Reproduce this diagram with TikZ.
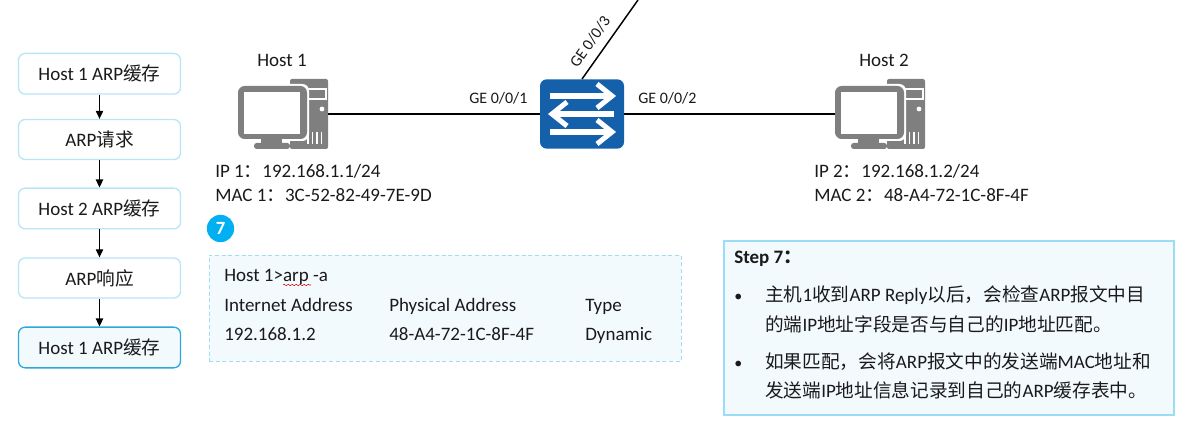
\documentclass[tikz,border=0pt]{standalone}
\usepackage{fontspec}
\setmainfont{Carlito}
\newfontfamily\cjk{Noto Sans CJK SC}
\newcommand{\C}[1]{{\cjk\fontsize{14pt}{16pt}\selectfont #1}}
\usetikzlibrary{arrows.meta,decorations.pathmorphing}
\definecolor{txt}{HTML}{1A1A1A}
\definecolor{pale}{HTML}{F3FAFE}
\definecolor{lightb}{HTML}{B7E6F7}
\definecolor{midb}{HTML}{2BA9DC}
\definecolor{dashb}{HTML}{9FDDF2}
\definecolor{stepb}{HTML}{9BDDF6}
\definecolor{cyanb}{HTML}{00B0F0}
\definecolor{swblue}{HTML}{1560AA}
\definecolor{pcgrey}{HTML}{7F7F7F}
\tikzset{
  x=0.75pt,y=-0.75pt,
  flow/.style={draw=lightb,line width=1pt,rounded corners=5pt,minimum width=121.5pt,inner sep=0pt,text=txt,font=\fontsize{14.25pt}{16pt}\selectfont,fill=white},
  flowon/.style={flow,draw=midb,fill=pale},
  lnk/.style={draw=black,line width=1.1pt},
  flowarrow/.style={draw=black,line width=0.8pt,-{Triangle[length=6pt,width=5.5pt]}},
  lab/.style={anchor=base west,inner sep=0pt,text=txt,font=\fontsize{14.25pt}{16pt}\selectfont},
  labc/.style={lab,anchor=base},
  small/.style={lab,font=\fontsize{12pt}{14pt}\selectfont},
  swarrow/.style={draw=white,line width=3.8pt},
  hostbox/.style={minimum width=67.5pt,minimum height=52.5pt,inner sep=0pt,draw=none},
  pics/hosticon/.style={code={
    % tower
    \fill[pcgrey,rounded corners=1.5pt] (52,0) rectangle (90,70);
    \draw[white,line width=0.8pt] (69,10) rectangle (88,20);
    \fill[white] (84,30) circle (2.4);
    \foreach \vx in {70,74.5,79,83.5} \draw[white,line width=0.9pt] (\vx,53) -- (\vx,65);
    % monitor
    \fill[white,rounded corners=5pt] (-2,5) rectangle (71,62);
    \fill[pcgrey,rounded corners=5pt] (0,7) rectangle (69,60);
    \fill[white] (6,13) rectangle (62,55);
    \fill[pcgrey] (23,60) rectangle (44,64);
    \fill[pcgrey,rounded corners=2pt] (16,64) rectangle (52,70);
  }}
}
\begin{document}
\begin{tikzpicture}
\useasboundingbox (0,0) rectangle (1191,427);
% flow column
\node[flow,minimum height=30.5pt] (f1) at (99.5,73.75) {Host 1 ARP\C{缓存}};
\node[flow,minimum height=30pt] (f2) at (99.5,139.5) {ARP\C{请求}};
\node[flow,minimum height=30.5pt] (f3) at (99.5,208.5) {Host 2 ARP\C{缓存}};
\node[flow,minimum height=30pt] (f4) at (99.5,278) {ARP\C{响应}};
\node[flowon,minimum height=30.5pt] (f5) at (99.5,347.5) {Host 1 ARP\C{缓存}};
\draw[flowarrow] (f1) -- (f2);
\draw[flowarrow] (f2) -- (f3);
\draw[flowarrow] (f3) -- (f4);
\draw[flowarrow] (f4) -- (f5);
% hosts
\node[hostbox,minimum width=67.5pt] (h1) at (283,114) {};
\pic at (238,79) {hosticon};
\node[hostbox] (h2) at (880,114) {};
\pic at (835,79) {hosticon};
\node[labc] (h1t) at (282,67) {Host 1};
\node[labc] (h2t) at (884,67) {Host 2};
% switch
\node[fill=swblue,rounded corners=5pt,minimum width=63pt,minimum height=52pt,inner sep=0pt] (sw) at (582,114) {};
\draw[swarrow] (550,96) -- (612,96);
\draw[swarrow,line join=miter] (597,84) -- (612,96) -- (597,108);
\draw[swarrow] (614,114) -- (552,114);
\draw[swarrow,line join=miter] (567,102) -- (552,114) -- (567,126);
\draw[swarrow] (550,132) -- (612,132);
\draw[swarrow,line join=miter] (597,120) -- (612,132) -- (597,144);
\coordinate (up) at (638,0);
\draw[lnk] (h1.east) -- (sw.west);
\draw[lnk] (sw.east) -- (h2.west);
\draw[lnk] (sw.north) -- (up);
\node[small] (p1) at (469,104) {GE 0/0/1};
\node[small] (p2) at (638,104) {GE 0/0/2};
\node[small,anchor=center,rotate=55] (p3) at (590,42) {GE 0/0/3};
% addresses
\node[lab] (a1) at (215,178) {IP 1\C{：}192.168.1.1/24};
\node[lab] (a2) at (215,202) {MAC 1\C{：}3C-52-82-49-7E-9D};
\node[lab] (a3) at (814,178) {IP 2\C{：}192.168.1.2/24};
\node[lab] (a4) at (814,202) {MAC 2\C{：}48-A4-72-1C-8F-4F};
% badge
\node[circle,fill=cyanb,minimum size=20.5pt,inner sep=0pt,text=white,font=\fontsize{14pt}{16pt}\selectfont\bfseries] (badge) at (220.5,228.5) {7};
% arp table
\node[draw=dashb,line width=0.7pt,dash pattern=on 3pt off 2pt,fill=pale,minimum width=354pt,minimum height=79.5pt,inner sep=0pt] (tbl) at (445,308) {};
\node[lab] (t0) at (224,282) {Host 1>arp -a};
\draw[red!80!black,line width=0.4pt,decorate,decoration={snake,amplitude=0.5pt,segment length=3pt}] (283,285) -- (311,285);
\node[lab] (t1) at (224,311) {Internet Address};
\node[lab] (t2) at (389,311) {Physical Address};
\node[lab] (t3) at (585,311) {Type};
\node[lab] (t4) at (224,340) {192.168.1.2};
\node[lab] (t5) at (389,340) {48-A4-72-1C-8F-4F};
\node[lab] (t6) at (585,340) {Dynamic};
% step box
\node[draw=stepb,line width=0.8pt,fill=pale,minimum width=337.5pt,minimum height=130.5pt,inner sep=0pt] (stepbox) at (949,328) {};
\node[lab,font=\fontsize{14.25pt}{16pt}\selectfont\bfseries] (s0) at (734,264) {Step 7\C{：}};
\node[lab,font=\fontsize{12pt}{14pt}\selectfont] (b1) at (734,302) {•};
\node[lab] (s1) at (765,302) {\C{主机}1\C{收到}ARP Reply\C{以后，会检查}ARP\C{报文中目}};
\node[lab] (s2) at (765,331) {\C{的端}IP\C{地址字段是否与自己的}IP\C{地址匹配。}};
\node[lab,font=\fontsize{12pt}{14pt}\selectfont] (b2) at (734,368) {•};
\node[lab] (s3) at (765,368) {\C{如果匹配，会将}ARP\C{报文中的发送端}MAC\C{地址和}};
\node[lab] (s4) at (765,397) {\C{发送端}IP\C{地址信息记录到自己的}ARP\C{缓存表中。}};
\end{tikzpicture}
\end{document}
